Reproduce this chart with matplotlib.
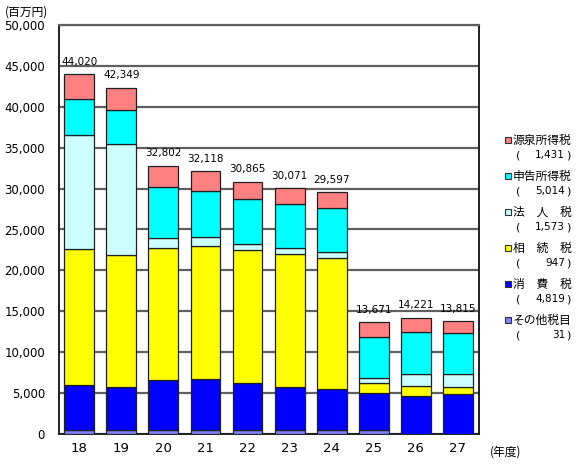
import numpy as np
import matplotlib
matplotlib.use("Agg")
import matplotlib.pyplot as plt
from matplotlib.patches import Rectangle

plt.rcParams['font.family'] = ['DejaVu Sans', 'Noto Sans CJK JP']
jp = ['Noto Sans CJK JP', 'DejaVu Sans']

# 年度
years = ['18', '19', '20', '21', '22', '23', '24', '25', '26', '27']
totals = [44020, 42349, 32802, 32118, 30865, 30071, 29597, 13671, 14221, 13815]

# 内訳 (百万円); 27 from the legend
sonota = [450, 450, 450, 450, 450, 450, 450, 450, 60, 31]
shohi = [5550, 5250, 6110, 6240, 5750, 5330, 5050, 4520, 4620, 4819]
sozoku = [16600, 16170, 16140, 16320, 16250, 16180, 15970, 1220, 1190, 947]
hojin = [13940, 13580, 1220, 1030, 780, 740, 810, 690, 1460, 1573]
shinkoku = [4400, 4150, 6230, 5700, 5450, 5370, 5300, 5010, 5170, 5014]
gensen = [totals[i] - sonota[i] - shohi[i] - sozoku[i] - hojin[i] - shinkoku[i]
          for i in range(len(years))]

series = [
    ('その他税目', sonota, '#8080ff'),
    ('消　費　税', shohi, '#0000ff'),
    ('相　続　税', sozoku, '#ffff00'),
    ('法　人　税', hojin, '#ccffff'),
    ('申告所得税', shinkoku, '#00ffff'),
    ('源泉所得税', gensen, '#ff8080'),
]

fig = plt.figure(figsize=(5.8, 4.65), dpi=100)
ax = fig.add_axes([59 / 580, 31 / 465, 420 / 580, 409 / 465])

x = np.arange(len(years))
bottom = np.zeros(len(years))
for name, vals, color in series:
    vals = np.array(vals, dtype=float)
    ax.bar(x, vals, bottom=bottom, width=0.71, color=color,
           edgecolor='#202020', linewidth=0.9, zorder=3)
    bottom += vals

for i, t in enumerate(totals):
    ax.text(x[i], t + 900, f"{t:,}", ha='center', va='bottom', fontsize=7.5)

ax.set_xlim(-0.48, 9.5)
ax.set_ylim(0, 50000)
ax.set_yticks(np.arange(0, 50001, 5000))
ax.set_yticklabels([f"{v:,}" for v in range(0, 50001, 5000)], fontsize=8.5)
ax.set_xticks(x)
ax.set_xticklabels(years, fontsize=9.5)
ax.tick_params(axis='both', length=0, pad=6)
ax.tick_params(axis='y', pad=10)
ax.yaxis.grid(True, color='#606060', linewidth=1.6, zorder=0)
ax.set_axisbelow(True)
for side in ['left', 'right', 'bottom']:
    ax.spines[side].set_color('#202020')
    ax.spines[side].set_linewidth(1.4)
ax.spines['top'].set_color('#606060')
ax.spines['top'].set_linewidth(1.6)

fig.text(5 / 580, 1 - 12 / 465, '(百万円)', fontsize=8.5, va='center', ha='left', family=jp)
fig.text(490 / 580, 1 - 452 / 465, '(年度)', fontsize=8.5, va='center', ha='left', family=jp)

# legend drawn by hand, top entry first
legend_vals = [31, 4819, 947, 1573, 5014, 1431]
y0 = 140
for k, (name, vals, color) in enumerate(reversed(series)):
    yy = y0 + k * 36
    fig.patches.append(Rectangle((505 / 580, 1 - (yy + 3) / 465), 6 / 580, 6 / 465,
                                 transform=fig.transFigure, facecolor=color,
                                 edgecolor='#303030', linewidth=0.8))
    fig.text(513 / 580, 1 - yy / 465, name, fontsize=8.5, va='center', ha='left', family=jp)
    fig.text(516 / 580, 1 - (yy + 15) / 465, '(', fontsize=8, va='center', ha='left')
    fig.text(565 / 580, 1 - (yy + 15) / 465, f"{legend_vals[5 - k]:,}", fontsize=7.5,
             va='center', ha='right')
    fig.text(566 / 580, 1 - (yy + 15) / 465, ')', fontsize=8, va='center', ha='left')

fig.savefig('out.png', dpi=100)
